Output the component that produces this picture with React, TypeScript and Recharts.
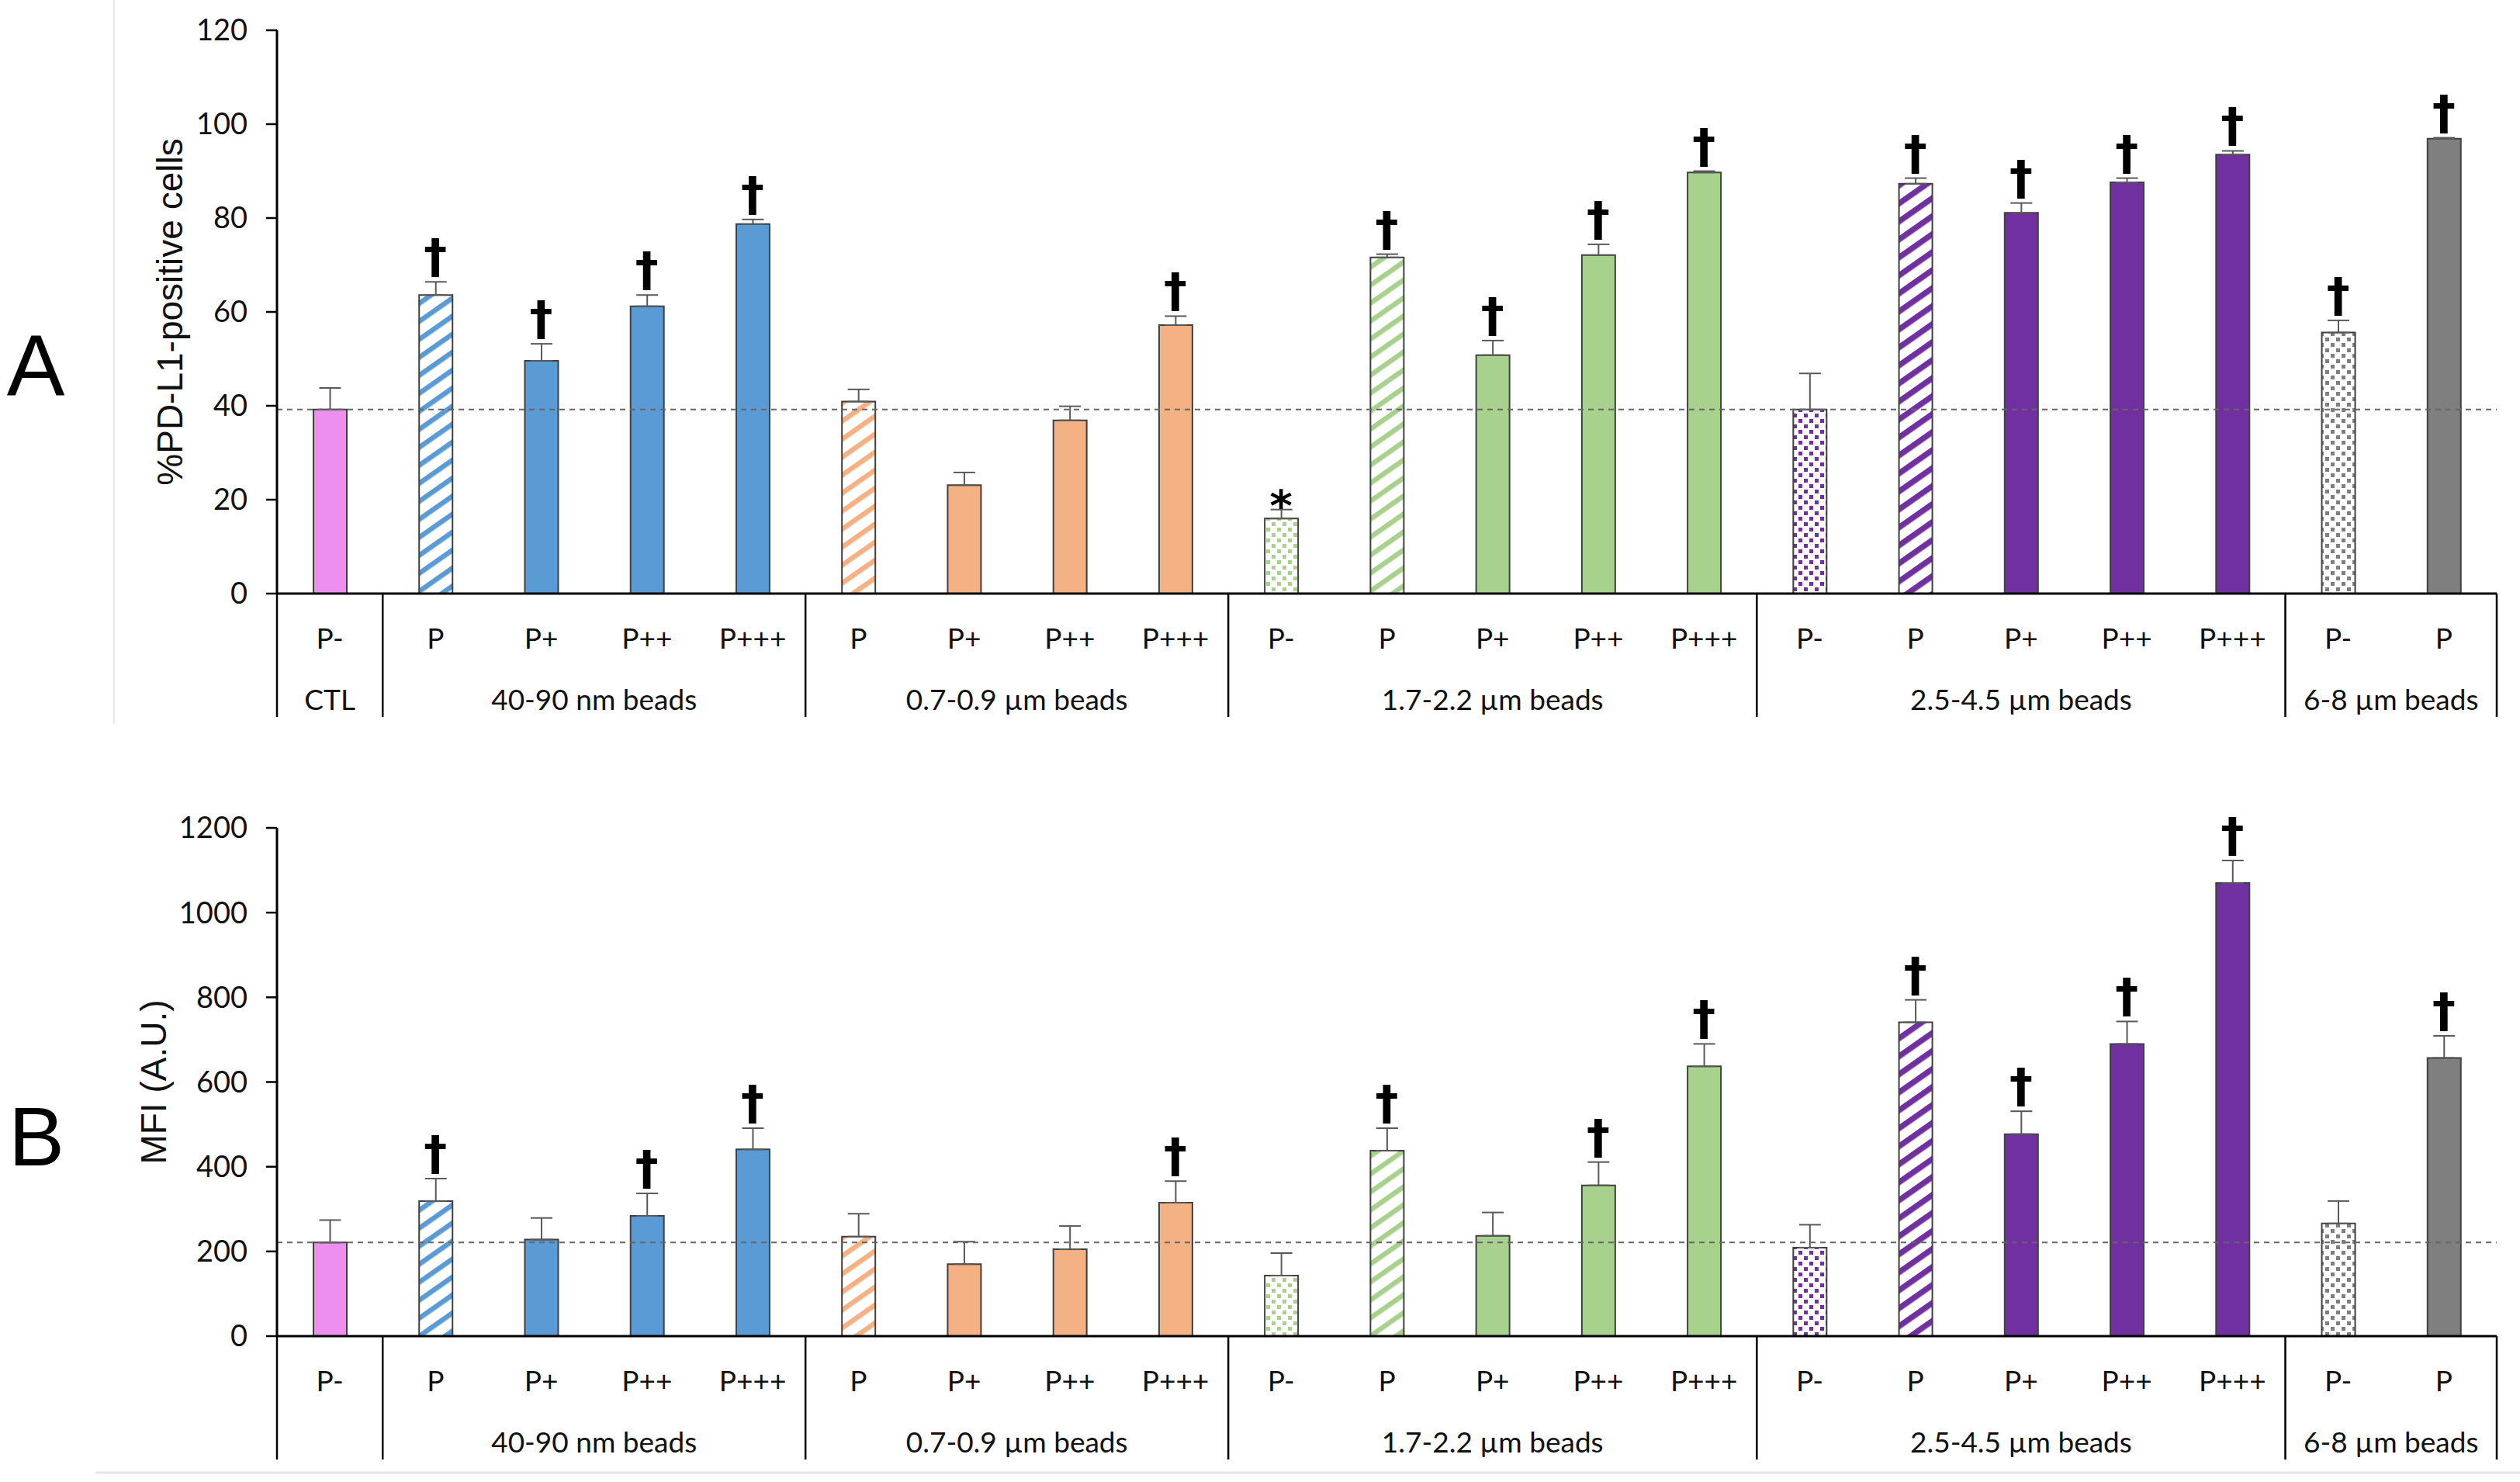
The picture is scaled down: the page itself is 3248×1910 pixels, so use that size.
import React from "react";
import {
  ComposedChart,
  Bar,
  Cell,
  ErrorBar,
  Line,
  XAxis,
  YAxis,
  ReferenceLine,
} from "recharts";

// categories (one per bar) and the bead-size groups they belong to
const categories = [
  "P-",
  "P", "P+", "P++", "P+++",
  "P", "P+", "P++", "P+++",
  "P-", "P", "P+", "P++", "P+++",
  "P-", "P", "P+", "P++", "P+++",
  "P-", "P",
];
const groupLabels = [
  "CTL",
  "40-90 nm beads",
  "0.7-0.9 µm beads",
  "1.7-2.2 µm beads",
  "2.5-4.5 µm beads",
  "6-8 µm beads",
];
const groupSizes = [1, 4, 4, 5, 5, 2];

// panel A: %PD-L1-positive cells
const pctValues = [39.2, 63.6, 49.6, 61.2, 78.7, 40.9, 23.1, 36.9, 57.2, 16.0, 71.6, 50.8, 72.1, 89.7, 39.2, 87.3, 81.1, 87.6, 93.5, 55.6, 96.9];
const pctErrors = [4.6, 2.8, 3.6, 2.4, 1.0, 2.6, 2.7, 3.0, 1.9, 1.9, 0.7, 3.1, 2.3, 0.3, 7.7, 1.2, 2.1, 0.9, 0.8, 2.6, 0.2];
const pctMarks = ["", "†", "†", "†", "†", "", "", "", "†", "*", "†", "†", "†", "†", "", "†", "†", "†", "†", "†", "†"];
const pctTicks = [0, 20, 40, 60, 80, 100, 120];

// panel B: MFI (A.U.)
const mfiValues = [221, 319, 228, 284, 441, 235, 170, 205, 315, 143, 438, 237, 356, 637, 209, 741, 477, 690, 1070, 266, 657];
const mfiErrors = [53, 53, 51, 53, 50, 54, 53, 55, 51, 53, 53, 55, 55, 53, 54, 53, 54, 53, 53, 53, 52];
const mfiMarks = ["", "†", "", "†", "†", "", "", "", "†", "", "†", "", "†", "†", "", "†", "†", "†", "†", "", "†"];
const mfiTicks = [0, 200, 400, 600, 800, 1000, 1200];

// fill style of each bar
const barStyles = [
  "ctl",
  "blueStripe", "blue", "blue", "blue",
  "orangeStripe", "orange", "orange", "orange",
  "greenDots", "greenStripe", "green", "green", "green",
  "purpleDots", "purpleStripe", "purple", "purple", "purple",
  "grayDots", "gray",
];

const colors: Record<string, string> = {
  ctl: "#EC8FEF",
  blue: "#5B9BD5",
  orange: "#F4B183",
  green: "#A9D18E",
  purple: "#7030A0",
  gray: "#7F7F7F",
};

const groupStarts = groupSizes.map((_, i) =>
  groupSizes.slice(0, i).reduce((a, b) => a + b, 0)
);

const W = 3248;
const CH = 950;
const YAXIS_W = 357;
const RIGHT = 30;
const PLOT_W = W - YAXIS_W - RIGHT;
const LABEL_FONT = "Lato, 'Open Sans', sans-serif";

function fillFor(style: string, prefix: string) {
  if (style.endsWith("Stripe")) return `url(#${prefix}-${style})`;
  if (style.endsWith("Dots")) return `url(#${prefix}-${style})`;
  return colors[style];
}

function Patterns({ prefix }: { prefix: string }) {
  const stripeColors = ["blue", "orange", "green", "purple"];
  const dotColors = ["green", "purple", "gray"];
  return (
    <defs>
      {stripeColors.map((c) => (
        <pattern
          key={c}
          id={`${prefix}-${c}Stripe`}
          patternUnits="userSpaceOnUse"
          width={19}
          height={19}
          patternTransform="rotate(-35)"
        >
          <rect width={19} height={19} fill="#fff" />
          <rect width={19} height={c === "purple" ? 7.5 : 6.5} fill={colors[c]} />
        </pattern>
      ))}
      {dotColors.map((c) => (
        <pattern
          key={c}
          id={`${prefix}-${c}Dots`}
          patternUnits="userSpaceOnUse"
          width={14}
          height={14}
        >
          <rect width={14} height={14} fill="#fff" />
          <rect x={1} y={1} width={5} height={5} fill={colors[c]} />
          <rect x={8} y={8} width={5} height={5} fill={colors[c]} />
        </pattern>
      ))}
    </defs>
  );
}

function makeTick(showCtl: boolean) {
  return (props: any) => {
    const { x, y, index, width } = props;
    const band = (width || PLOT_W) / categories.length;
    const gi = groupStarts.indexOf(index);
    const last = index === categories.length - 1;
    return (
      <g>
        <text
          x={x}
          y={y + 56}
          textAnchor="middle"
          dominantBaseline="central"
          fontFamily={LABEL_FONT}
          fontSize={37}
          fill="#111"
        >
          {categories[index]}
        </text>
        {gi >= 0 && (
          <line x1={x - band / 2} x2={x - band / 2} y1={y} y2={y + 159} stroke="#000" strokeWidth={2.5} />
        )}
        {last && (
          <line x1={x + band / 2} x2={x + band / 2} y1={y} y2={y + 159} stroke="#000" strokeWidth={2.5} />
        )}
        {gi >= 0 && (showCtl || gi > 0) && (
          <text
            x={x + ((groupSizes[gi] - 1) / 2) * band}
            y={y + 135}
            textAnchor="middle"
            dominantBaseline="central"
            fontFamily={LABEL_FONT}
            fontSize={37}
            fill="#111"
          >
            {groupLabels[gi]}
          </text>
        )}
      </g>
    );
  };
}

const renderMark = (props: any) => {
  const { cx, cy, payload, index } = props;
  if (!payload || !payload.mark || cy == null || isNaN(cy)) return <g key={`m${index}`} />;
  const dagger = payload.mark === "†";
  return (
    <text
      key={`m${index}`}
      x={cx}
      y={dagger ? cy - 12 : cy + 14}
      textAnchor="middle"
      fontFamily="'DejaVu Sans', sans-serif"
      fontWeight="bold"
      fontSize={dagger ? 60 : 56}
      fill="#000"
    >
      {payload.mark}
    </text>
  );
};

interface PanelProps {
  prefix: string;
  values: number[];
  errors: number[];
  marks: string[];
  ticks: number[];
  title: string;
  titleX: number;
  showCtl: boolean;
  marginTop: number;
  marginBottom: number;
}

function Panel({ prefix, values, errors, marks, ticks, title, titleX, showCtl, marginTop, marginBottom }: PanelProps) {
  const data = categories.map((c, i) => ({
    key: `c${i}`,
    cat: c,
    value: values[i],
    err: [0, errors[i]],
    markTop: marks[i] ? values[i] + errors[i] : null,
    mark: marks[i],
  }));
  const yMax = ticks[ticks.length - 1];

  return (
    <ComposedChart
      width={W}
      height={CH}
      data={data}
      margin={{ top: marginTop, right: RIGHT, bottom: marginBottom, left: 0 }}
    >
      <Patterns prefix={prefix} />
      <XAxis
        dataKey="key"
        interval={0}
        height={160}
        tickSize={0}
        tickMargin={0}
        tickLine={false}
        axisLine={{ stroke: "#000", strokeWidth: 3 }}
        tick={makeTick(showCtl)}
      />
      <YAxis
        domain={[0, yMax]}
        ticks={ticks}
        width={YAXIS_W}
        tickSize={14}
        tickMargin={24}
        axisLine={{ stroke: "#000", strokeWidth: 3 }}
        tickLine={{ stroke: "#000", strokeWidth: 2.5 }}
        tick={{ fill: "#111", fontSize: 38, fontFamily: LABEL_FONT }}
        label={(p: any) => {
          const vb = p.viewBox || {};
          const cy = (vb.y || 0) + (vb.height || 0) / 2;
          return (
            <text
              x={titleX}
              y={cy}
              transform={`rotate(-90 ${titleX} ${cy})`}
              textAnchor="middle"
              dominantBaseline="central"
              fontFamily="'Liberation Sans', Arial, sans-serif"
              fontSize={46}
              fill="#111"
            >
              {title}
            </text>
          );
        }}
      />
      <Bar dataKey="value" barSize={43} stroke="#404040" strokeWidth={2} isAnimationActive={false}>
        {data.map((d, i) => (
          <Cell key={d.key} fill={fillFor(barStyles[i], prefix)} />
        ))}
        <ErrorBar dataKey="err" width={14} stroke="#595959" strokeWidth={2} direction="y" />
      </Bar>
      <ReferenceLine y={values[0]} stroke="#666" strokeWidth={2} strokeDasharray="7 6" />
      <Line
        dataKey="markTop"
        stroke="none"
        dot={renderMark}
        activeDot={false}
        legendType="none"
        isAnimationActive={false}
      />
    </ComposedChart>
  );
}

export default function App() {
  return (
    <div style={{ position: "relative", width: W, height: 1910, background: "#fff", overflow: "hidden" }}>
      <style>{"body{margin:0}"}</style>
      <svg width={W} height={1910} style={{ position: "absolute", left: 0, top: 0 }}>
        <line x1={147} x2={147} y1={0} y2={933} stroke="#e6e6e6" strokeWidth={2} />
        <line x1={123} x2={W} y1={1898} y2={1898} stroke="#e6e6e6" strokeWidth={3} />
        <text x={46} y={509} textAnchor="middle" fontFamily="'Liberation Sans', Arial, sans-serif" fontSize={112} fill="#000">
          A
        </text>
        <text x={47} y={1502} textAnchor="middle" fontFamily="'Liberation Sans', Arial, sans-serif" fontSize={108} fill="#000">
          B
        </text>
      </svg>
      <div style={{ position: "absolute", left: 0, top: 0 }}>
        <Panel
          prefix="a"
          values={pctValues}
          errors={pctErrors}
          marks={pctMarks}
          ticks={pctTicks}
          title="%PD-L1-positive cells"
          titleX={219}
          showCtl={true}
          marginTop={39}
          marginBottom={25}
        />
      </div>
      <div style={{ position: "absolute", left: 0, top: 960 }}>
        <Panel
          prefix="b"
          values={mfiValues}
          errors={mfiErrors}
          marks={mfiMarks}
          ticks={mfiTicks}
          title="MFI (A.U.)"
          titleX={198}
          showCtl={false}
          marginTop={107}
          marginBottom={28}
        />
      </div>
    </div>
  );
}
